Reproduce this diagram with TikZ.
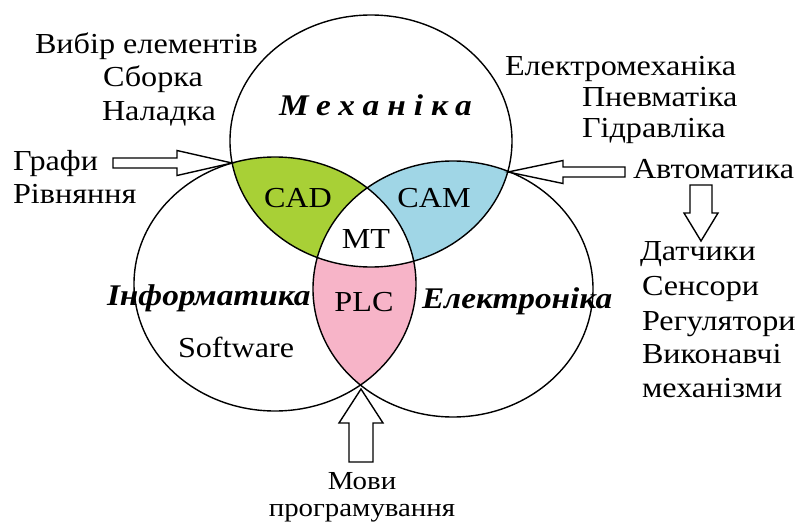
\documentclass[tikz,border=0pt]{standalone}
\usepackage{fontspec}
\setmainfont{Liberation Serif}
\definecolor{cadgreen}{RGB}{168,208,54}
\definecolor{camblue}{RGB}{160,214,230}
\definecolor{plcpink}{RGB}{247,180,200}
\begin{document}
\begin{tikzpicture}[x=1pt,y=-1pt,
  every node/.style={inner sep=0pt, outer sep=0pt, xscale=1.11, font=\fontsize{29}{34}\selectfont},
  lbl/.style={anchor=base west},
  clbl/.style={anchor=base},
  small/.style={font=\fontsize{26}{30}\selectfont},
  subj/.style={anchor=base west, font=\fontsize{30}{34}\selectfont\bfseries\itshape},
  ring/.style={line width=1.4pt, draw=black},
  blockarrow/.style={draw=black, line width=1.4pt, fill=white, line join=miter}]
\useasboundingbox (0,0) rectangle (801,525);
\fill[white] (0,0) rectangle (801,525);
% region fills
\begin{scope}
  \clip (371,141) ellipse [x radius=141pt, y radius=126pt];
  \clip (275,284) ellipse [x radius=141pt, y radius=127pt];
  \fill[cadgreen] (0,0) rectangle (801,525);
\end{scope}
\begin{scope}
  \clip (371,141) ellipse [x radius=141pt, y radius=126pt];
  \clip (453,289) ellipse [x radius=140pt, y radius=128pt];
  \fill[camblue] (0,0) rectangle (801,525);
\end{scope}
\begin{scope}
  \clip (275,284) ellipse [x radius=141pt, y radius=127pt];
  \clip (453,289) ellipse [x radius=140pt, y radius=128pt];
  \fill[plcpink] (0,0) rectangle (801,525);
\end{scope}
\begin{scope}
  \clip (371,141) ellipse [x radius=141pt, y radius=126pt];
  \clip (275,284) ellipse [x radius=141pt, y radius=127pt];
  \clip (453,289) ellipse [x radius=140pt, y radius=128pt];
  \fill[white] (0,0) rectangle (801,525);
\end{scope}
% rings
\draw[ring] (371,141) ellipse [x radius=141pt, y radius=126pt];
\draw[ring] (275,284) ellipse [x radius=141pt, y radius=127pt];
\draw[ring] (453,289) ellipse [x radius=140pt, y radius=128pt];
% arrow tips
\coordinate (tipL) at (232,163);
\coordinate (tipR) at (508,172);
\coordinate (tipD) at (701,241);
\coordinate (tipU) at (361,389);
% block arrows
\draw[blockarrow] (tipL) -- ++(-55,-12.5) -- ++(0,7.5) -- ++(-64,0) -- ++(0,10) -- ++(64,0) -- ++(0,7.5) -- cycle;
\draw[blockarrow] (tipR) -- ++(55,-11.5) -- ++(0,6.5) -- ++(62,0) -- ++(0,10) -- ++(-62,0) -- ++(0,6.5) -- cycle;
\draw[blockarrow] (tipD) -- ++(-17,-28) -- ++(6,0) -- ++(0,-28) -- ++(22,0) -- ++(0,28) -- ++(6,0) -- cycle;
\draw[blockarrow] (tipU) -- ++(-22,34) -- ++(10,0) -- ++(0,39) -- ++(24,0) -- ++(0,-39) -- ++(10,0) -- cycle;
% region labels
\node[clbl] (cad) at (298,207) {CAD};
\node[clbl] (cam) at (434,207) {CAM};
\node[clbl] (mt) at (366,248) {MT};
\node[clbl] (plc) at (364,311) {PLC};
% subject labels
\node[subj] (mech) at (279,115) {\addfontfeatures{LetterSpace=24}Механіка};
\node[subj] (inf) at (107,305) {Інформатика};
\node[subj] (el) at (422,308) {Електроніка};
\node[lbl] (sw) at (178,357) {Software};
% left texts
\node[lbl] (vybir) at (35,53) {Вибір елементів};
\node[lbl] (sborka) at (103,86) {Сборка};
\node[lbl] (nal) at (102,120) {Наладка};
\node[lbl] (grafy) at (13,170) {Графи};
\node[lbl] (rivn) at (13,203) {Рівняння};
% right texts
\node[lbl] (elmech) at (505,75) {Електромеханіка};
\node[lbl] (pnev) at (582,106) {Пневматіка};
\node[lbl] (gidr) at (582,137) {Гідравліка};
\node[lbl] (avt) at (633,178) {Автоматика};
\node[lbl] (dat) at (640,260) {Датчики};
\node[lbl] (sens) at (642,295) {Сенсори};
\node[lbl] (reg) at (642,330) {Регулятори};
\node[lbl] (vyk) at (642,363) {Виконавчі};
\node[lbl] (mech2) at (642,397) {механізми};
% bottom
\node[clbl, small] (movy) at (362,489) {Мови};
\node[clbl, small] (prog) at (362,516) {програмування};
\end{tikzpicture}
\end{document}
